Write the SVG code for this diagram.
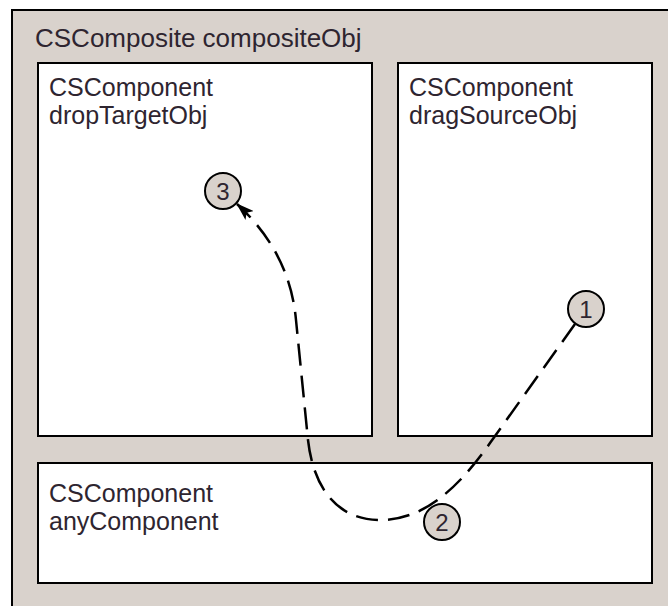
<svg xmlns="http://www.w3.org/2000/svg" width="668" height="606" viewBox="0 0 668 606">
  <style>
    .frame { fill: #d9d2cc; stroke: #000; stroke-width: 2; }
    .box { fill: #fff; stroke: #000; stroke-width: 2; }
    .label { font-family: "Liberation Sans", Arial, sans-serif; font-size: 25px; fill: #2e2530; }
    .title { font-size: 26px; }
    .step { fill: #d9d2cc; stroke: #000; stroke-width: 2; }
    .num { font-family: "Liberation Sans", Arial, sans-serif; font-size: 24px; fill: #2e2530; text-anchor: middle; }
    .drag { fill: none; stroke: #000; stroke-width: 2.5; stroke-dasharray: 22 10; }
  </style>
  <defs>
    <marker id="arrow" viewBox="0 0 18 12" refX="17" refY="6" markerWidth="18" markerHeight="12" orient="auto" markerUnits="userSpaceOnUse">
      <path d="M0,0 L18,6 L0,12 L4,6 Z" fill="#000"/>
    </marker>
  </defs>

  <rect width="668" height="606" fill="#fff"/>

  <!-- outer composite, running off the right and bottom edges -->
  <g id="compositeObj">
    <rect class="frame" x="12" y="10" width="670" height="610"/>
    <text class="label title" x="35" y="47">CSComposite compositeObj</text>
  </g>

  <g id="dropTargetObj">
    <rect class="box" x="38" y="63" width="334" height="373"/>
    <text class="label" x="49" y="96">CSComponent</text>
    <text class="label" x="49" y="124">dropTargetObj</text>
  </g>

  <g id="dragSourceObj">
    <rect class="box" x="398" y="63" width="254" height="373"/>
    <text class="label" x="409" y="96">CSComponent</text>
    <text class="label" x="409" y="124">dragSourceObj</text>
  </g>

  <g id="anyComponent">
    <rect class="box" x="38" y="463" width="614" height="120"/>
    <text class="label" x="49" y="502">CSComponent</text>
    <text class="label" x="49" y="530">anyComponent</text>
  </g>

  <!-- drag path: 1 -> 2 -> 3 -->
  <g id="connectors">
    <path class="drag" marker-end="url(#arrow)" d="M575 324 L490 443 C455 493 420 521 378 520 C335 519 313 485 308 440 L296 320 C292 275 272 236 237 204"/>
  </g>

  <g id="step1">
    <circle class="step" cx="586" cy="309" r="18"/>
    <text class="num" x="586" y="318">1</text>
  </g>
  <g id="step2">
    <circle class="step" cx="442" cy="522" r="18"/>
    <text class="num" x="442" y="531">2</text>
  </g>
  <g id="step3">
    <circle class="step" cx="223" cy="191" r="18"/>
    <text class="num" x="223" y="200">3</text>
  </g>
</svg>
